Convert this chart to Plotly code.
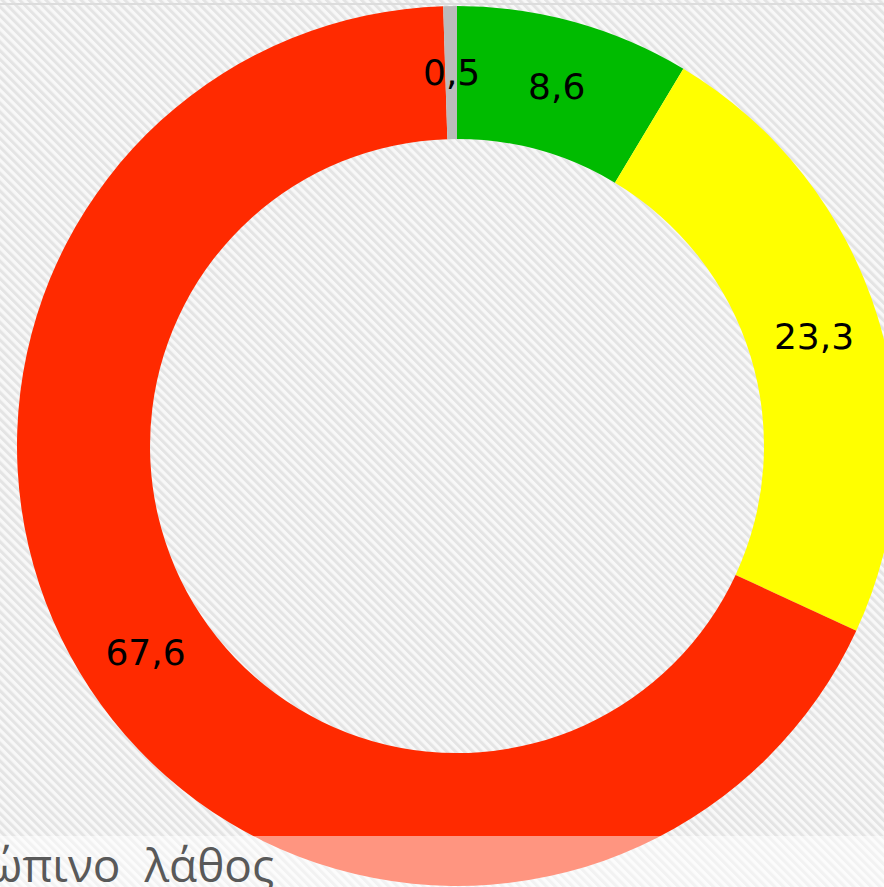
import base64
import math
import plotly.graph_objects as go

# ---- data ----
categories = ["Green", "Yellow", "Red", "Grey"]
values = [8.6, 23.3, 67.6, 0.5]
value_labels = ["8,6", "23,3", "67,6", "0,5"]
slice_colors = ["#00BB00", "#FFFF00", "#FF2A00", "#BBBBBB"]
caption = "ανθρώπινο\u00a0\u00a0λάθος"

W, H = 900, 887
cx, cy, R = 457, 446, 440
HOLE = 307 / 440
LABEL_FONT = dict(family="DejaVu Sans", size=36, color="black")

svg = (
    f"<svg xmlns='http://www.w3.org/2000/svg' width='{W}' height='{H}'>"
    "<defs><pattern id='p' width='6.2' height='6.2' patternUnits='userSpaceOnUse' "
    "patternTransform='rotate(-45)'>"
    "<rect width='6.2' height='6.2' fill='#f8f8f8'/>"
    "<rect width='3' height='6.2' fill='#e4e4e4'/>"
    "</pattern></defs>"
    f"<rect width='{W}' height='{H}' fill='url(#p)'/></svg>"
)
svg_uri = "data:image/svg+xml;base64," + base64.b64encode(svg.encode()).decode()

# the tiny slice's label is too small for plotly to centre inside the ring,
# so it is placed as an annotation at the slice's mid-angle, mid-ring
total = sum(values)
positions = ["inside"] * len(values)
annots = []
cum = 0.0
for v, lab in zip(values, value_labels):
    if v / total < 0.02:
        idx = values.index(v)
        positions[idx] = "none"
        ang = 2 * math.pi * (cum + v / 2) / total
        rmid = R * (1 + HOLE) / 2
        px = cx + rmid * math.sin(ang)
        py = cy - rmid * math.cos(ang)
        annots.append(dict(
            text=lab, xref="paper", yref="paper", x=px / W, y=1 - py / H,
            xanchor="center", yanchor="middle", showarrow=False, font=LABEL_FONT,
        ))
    cum += v

fig = go.Figure(
    go.Pie(
        labels=categories,
        values=values,
        text=value_labels,
        textinfo="text",
        textposition=positions,
        insidetextorientation="horizontal",
        textfont=LABEL_FONT,
        marker=dict(colors=slice_colors, line=dict(width=0)),
        hole=HOLE,
        sort=False,
        direction="clockwise",
        rotation=0,
        hoverinfo="skip",
        showlegend=False,
        domain=dict(
            x=[(cx - R) / W, (cx + R) / W],
            y=[(H - (cy + R)) / H, (H - (cy - R)) / H],
        ),
    )
)

fig.update_layout(
    width=W,
    height=H,
    margin=dict(l=0, r=0, t=0, b=0),
    paper_bgcolor="white",
    plot_bgcolor="white",
    uniformtext=dict(minsize=36, mode="show"),
    images=[
        dict(
            source=svg_uri, xref="paper", yref="paper", x=0, y=1,
            sizex=1, sizey=1, sizing="stretch", layer="below",
            xanchor="left", yanchor="top",
        )
    ],
    shapes=[
        dict(type="rect", xref="paper", yref="paper",
             x0=0, x1=1, y0=(H - 5) / H, y1=(H - 3) / H,
             fillcolor="#dcdcdc", line=dict(width=0), layer="below"),
        dict(type="rect", xref="paper", yref="paper",
             x0=0, x1=1, y0=0, y1=(H - 836) / H,
             fillcolor="rgba(255,255,255,0.5)", line=dict(width=0), layer="above"),
    ],
    annotations=annots + [
        dict(
            text=caption, xref="paper", yref="paper",
            x=276 / W, y=(H - 864) / H, xanchor="right", yanchor="middle",
            showarrow=False,
            font=dict(family="Open Sans", size=46, color="#595959"),
        )
    ],
)

fig.write_html(
    "out.html",
    config={"displayModeBar": False},
    post_script="document.body.style.margin='0';document.body.style.overflow='hidden';",
)
